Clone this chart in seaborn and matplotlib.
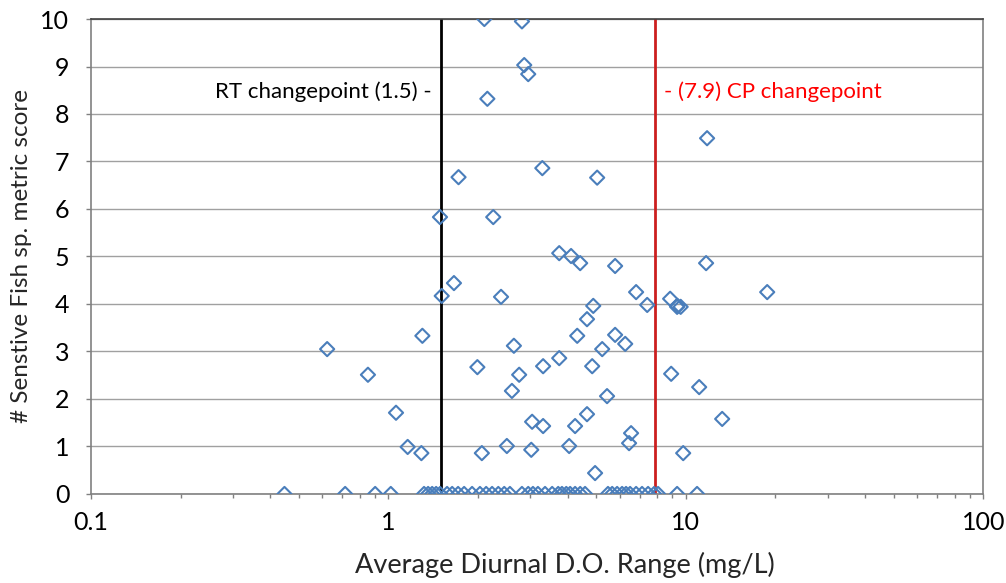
import numpy as np
import pandas as pd
import matplotlib
matplotlib.use("Agg")
import matplotlib.pyplot as plt
import seaborn as sns
from matplotlib.ticker import LogLocator, FixedLocator, NullFormatter

# Sites with a non-zero sensitive-fish score
do_range_scored = [2.10, 2.81, 2.86, 2.95, 2.15, 11.78, 1.72, 3.29, 5.03, 1.49,
                   2.25, 3.75, 4.11, 4.41, 5.78, 1.66, 1.51, 2.39, 6.80, 7.41,
                   4.88, 4.65, 8.85, 9.34, 9.37, 9.60, 1.30, 4.31, 5.78, 6.25,
                   2.64, 5.23, 1.99, 3.75, 3.31, 4.84, 2.75, 8.92, 2.60, 5.43,
                   1.06, 4.65, 3.04, 3.31, 4.24, 6.54, 6.44, 1.16, 1.29, 2.06,
                   2.50, 3.02, 4.05, 4.95, 9.79, 11.08, 13.24, 11.69, 18.76, 0.622,
                   0.853]
score_scored = [10.0, 9.95, 9.03, 8.84, 8.32, 7.49, 6.67, 6.86, 6.66, 5.83,
                5.83, 5.07, 5.01, 4.86, 4.80, 4.44, 4.17, 4.15, 4.25, 3.98,
                3.96, 3.68, 4.11, 3.94, 3.96, 3.94, 3.33, 3.33, 3.35, 3.16,
                3.12, 3.05, 2.67, 2.86, 2.69, 2.69, 2.51, 2.53, 2.17, 2.06,
                1.71, 1.68, 1.52, 1.43, 1.43, 1.28, 1.07, 0.99, 0.86, 0.86,
                1.01, 0.93, 1.01, 0.44, 0.86, 2.25, 1.58, 4.86, 4.25, 3.05,
                2.51]

# Sites where no sensitive fish species were found
do_range_zero = [0.447, 0.715, 0.902, 1.018,
                 1.317, 1.359, 1.402, 1.446, 1.491, 1.574, 1.637, 1.714, 1.796,
                 1.910, 2.03, 2.13, 2.23, 2.34, 2.45, 2.56, 2.81, 2.95, 3.06,
                 3.18, 3.36, 3.55, 3.72, 3.83, 3.96, 4.08, 4.24, 4.41, 4.58,
                 5.47, 5.65, 5.87, 6.10, 6.29, 6.49, 6.80, 7.12, 7.46, 7.82,
                 8.06, 9.34, 10.9]

rt_changepoint = 1.5
cp_changepoint = 7.9

x_ticks = [0.1, 1, 10, 100]
x_tick_labels = ["0.1", "1", "10", "100"]
y_ticks = list(range(0, 11))

df = pd.DataFrame({
    "do_range": do_range_scored + do_range_zero,
    "score": score_scored + [0.0] * len(do_range_zero),
})

sns.set_theme(style="white")
plt.rcParams["font.family"] = ["Lato", "DejaVu Sans"]

fig = plt.figure(figsize=(10.06, 5.83), dpi=100)
ax = fig.add_axes([0.0905, 0.1527, 0.887, 0.8147])

blue = "#4a7ebb"
sns.scatterplot(data=df, x="do_range", y="score", ax=ax, marker="D", s=52,
                color=blue, linewidth=1.5, zorder=3, legend=False)
for coll in ax.collections:
    coll.set_facecolor("none")
    coll.set_edgecolor(blue)

ax.set_xscale("log")
ax.set_xlim(0.1, 100)
ax.set_ylim(0, 10)

ax.axvline(rt_changepoint, color="black", lw=2.0, zorder=2)
ax.axvline(cp_changepoint, color="#cc1f1f", lw=2.0, zorder=2)

ax.text(1.40, 8.46, f"RT changepoint ({rt_changepoint}) -", ha="right", va="center",
        fontsize=16, color="black")
ax.text(8.45, 8.46, f"- ({cp_changepoint}) CP changepoint", ha="left", va="center",
        fontsize=16, color="#ff0000")

# horizontal gridlines only
ax.set_yticks(y_ticks)
ax.yaxis.grid(True, color="#a0a0a0", lw=1.0)
ax.xaxis.grid(False)
ax.set_axisbelow(True)

ax.xaxis.set_major_locator(FixedLocator(x_ticks))
ax.set_xticklabels(x_tick_labels)
ax.xaxis.set_minor_locator(LogLocator(base=10, subs=np.arange(2, 10)))
ax.xaxis.set_minor_formatter(NullFormatter())

ax.tick_params(axis="both", which="major", direction="out", length=3.6, width=1,
               color="#808080", labelsize=18, labelcolor="black")
ax.tick_params(axis="y", which="major", pad=12)
ax.tick_params(axis="x", which="major", pad=9)
ax.tick_params(axis="x", which="minor", direction="out", length=3, width=1,
               color="#808080")
ax.tick_params(left=True, bottom=True, which="both")
ax.tick_params(axis="y", which="minor", left=False)

for side in ["left", "bottom", "right"]:
    ax.spines[side].set_color("#808080")
    ax.spines[side].set_linewidth(1.2)
ax.spines["top"].set_color("#404040")
ax.spines["top"].set_linewidth(1.2)

ax.set_xlabel("Average Diurnal D.O. Range (mg/L)", fontsize=19.5)
ax.xaxis.set_label_coords(0.531, -0.121)
ax.set_ylabel("# Senstive Fish sp. metric score", fontsize=17.5, labelpad=6)

fig.savefig("out.png", dpi=100)
